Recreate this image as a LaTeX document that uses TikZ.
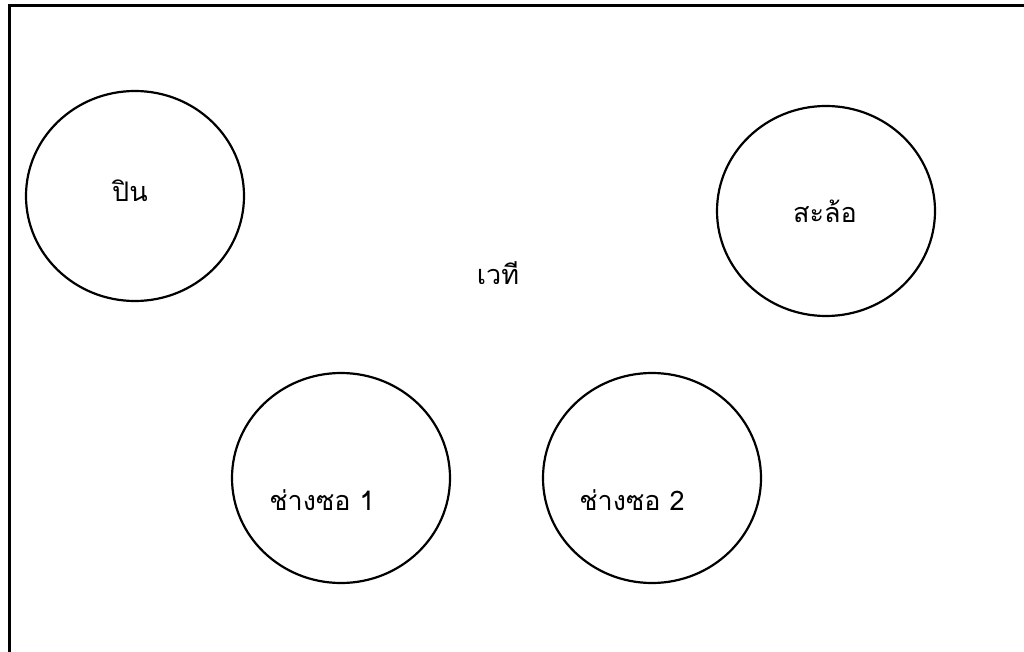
\documentclass[tikz,border=0pt]{standalone}
\usepackage{fontspec}
\newfontfamily\thaifont[Script=Thai]{Loma}
\usetikzlibrary{shapes.geometric}
\begin{document}
\begin{tikzpicture}[x=1pt,y=-1pt,
  seat/.style={draw, ellipse, line width=2.2pt, minimum width=218pt, minimum height=210pt, inner sep=0pt},
  lbl/.style={font=\thaifont\fontsize{27}{30}\selectfont, inner sep=0pt}]
\useasboundingbox (0,0) rectangle (1024,652);
\fill[white] (0,0) rectangle (1024,652);
\coordinate (tl) at (9,6);
\coordinate (tr) at (1024,6);
\coordinate (bl) at (9,652);
\draw[line width=3pt] (tr) -- (tl) -- (bl);
\node[seat] (pin) at (135,196) {};
\node[seat] (salo) at (826,211) {};
\node[seat] (so1) at (341,478) {};
\node[seat] (so2) at (652,478) {};
\node[lbl] (tpin) at (130,191) {ปิน};
\node[lbl] (tsalo) at (825,211) {สะล้อ};
\node[lbl] (tso1) at (322,500) {ช่างซอ 1};
\node[lbl] (tso2) at (632,500) {ช่างซอ 2};
\begin{scope}
\clip (400,240) rectangle (600,283);
\node[lbl] (stage) at (498,273) {เวที};
\end{scope}
\end{tikzpicture}
\end{document}
